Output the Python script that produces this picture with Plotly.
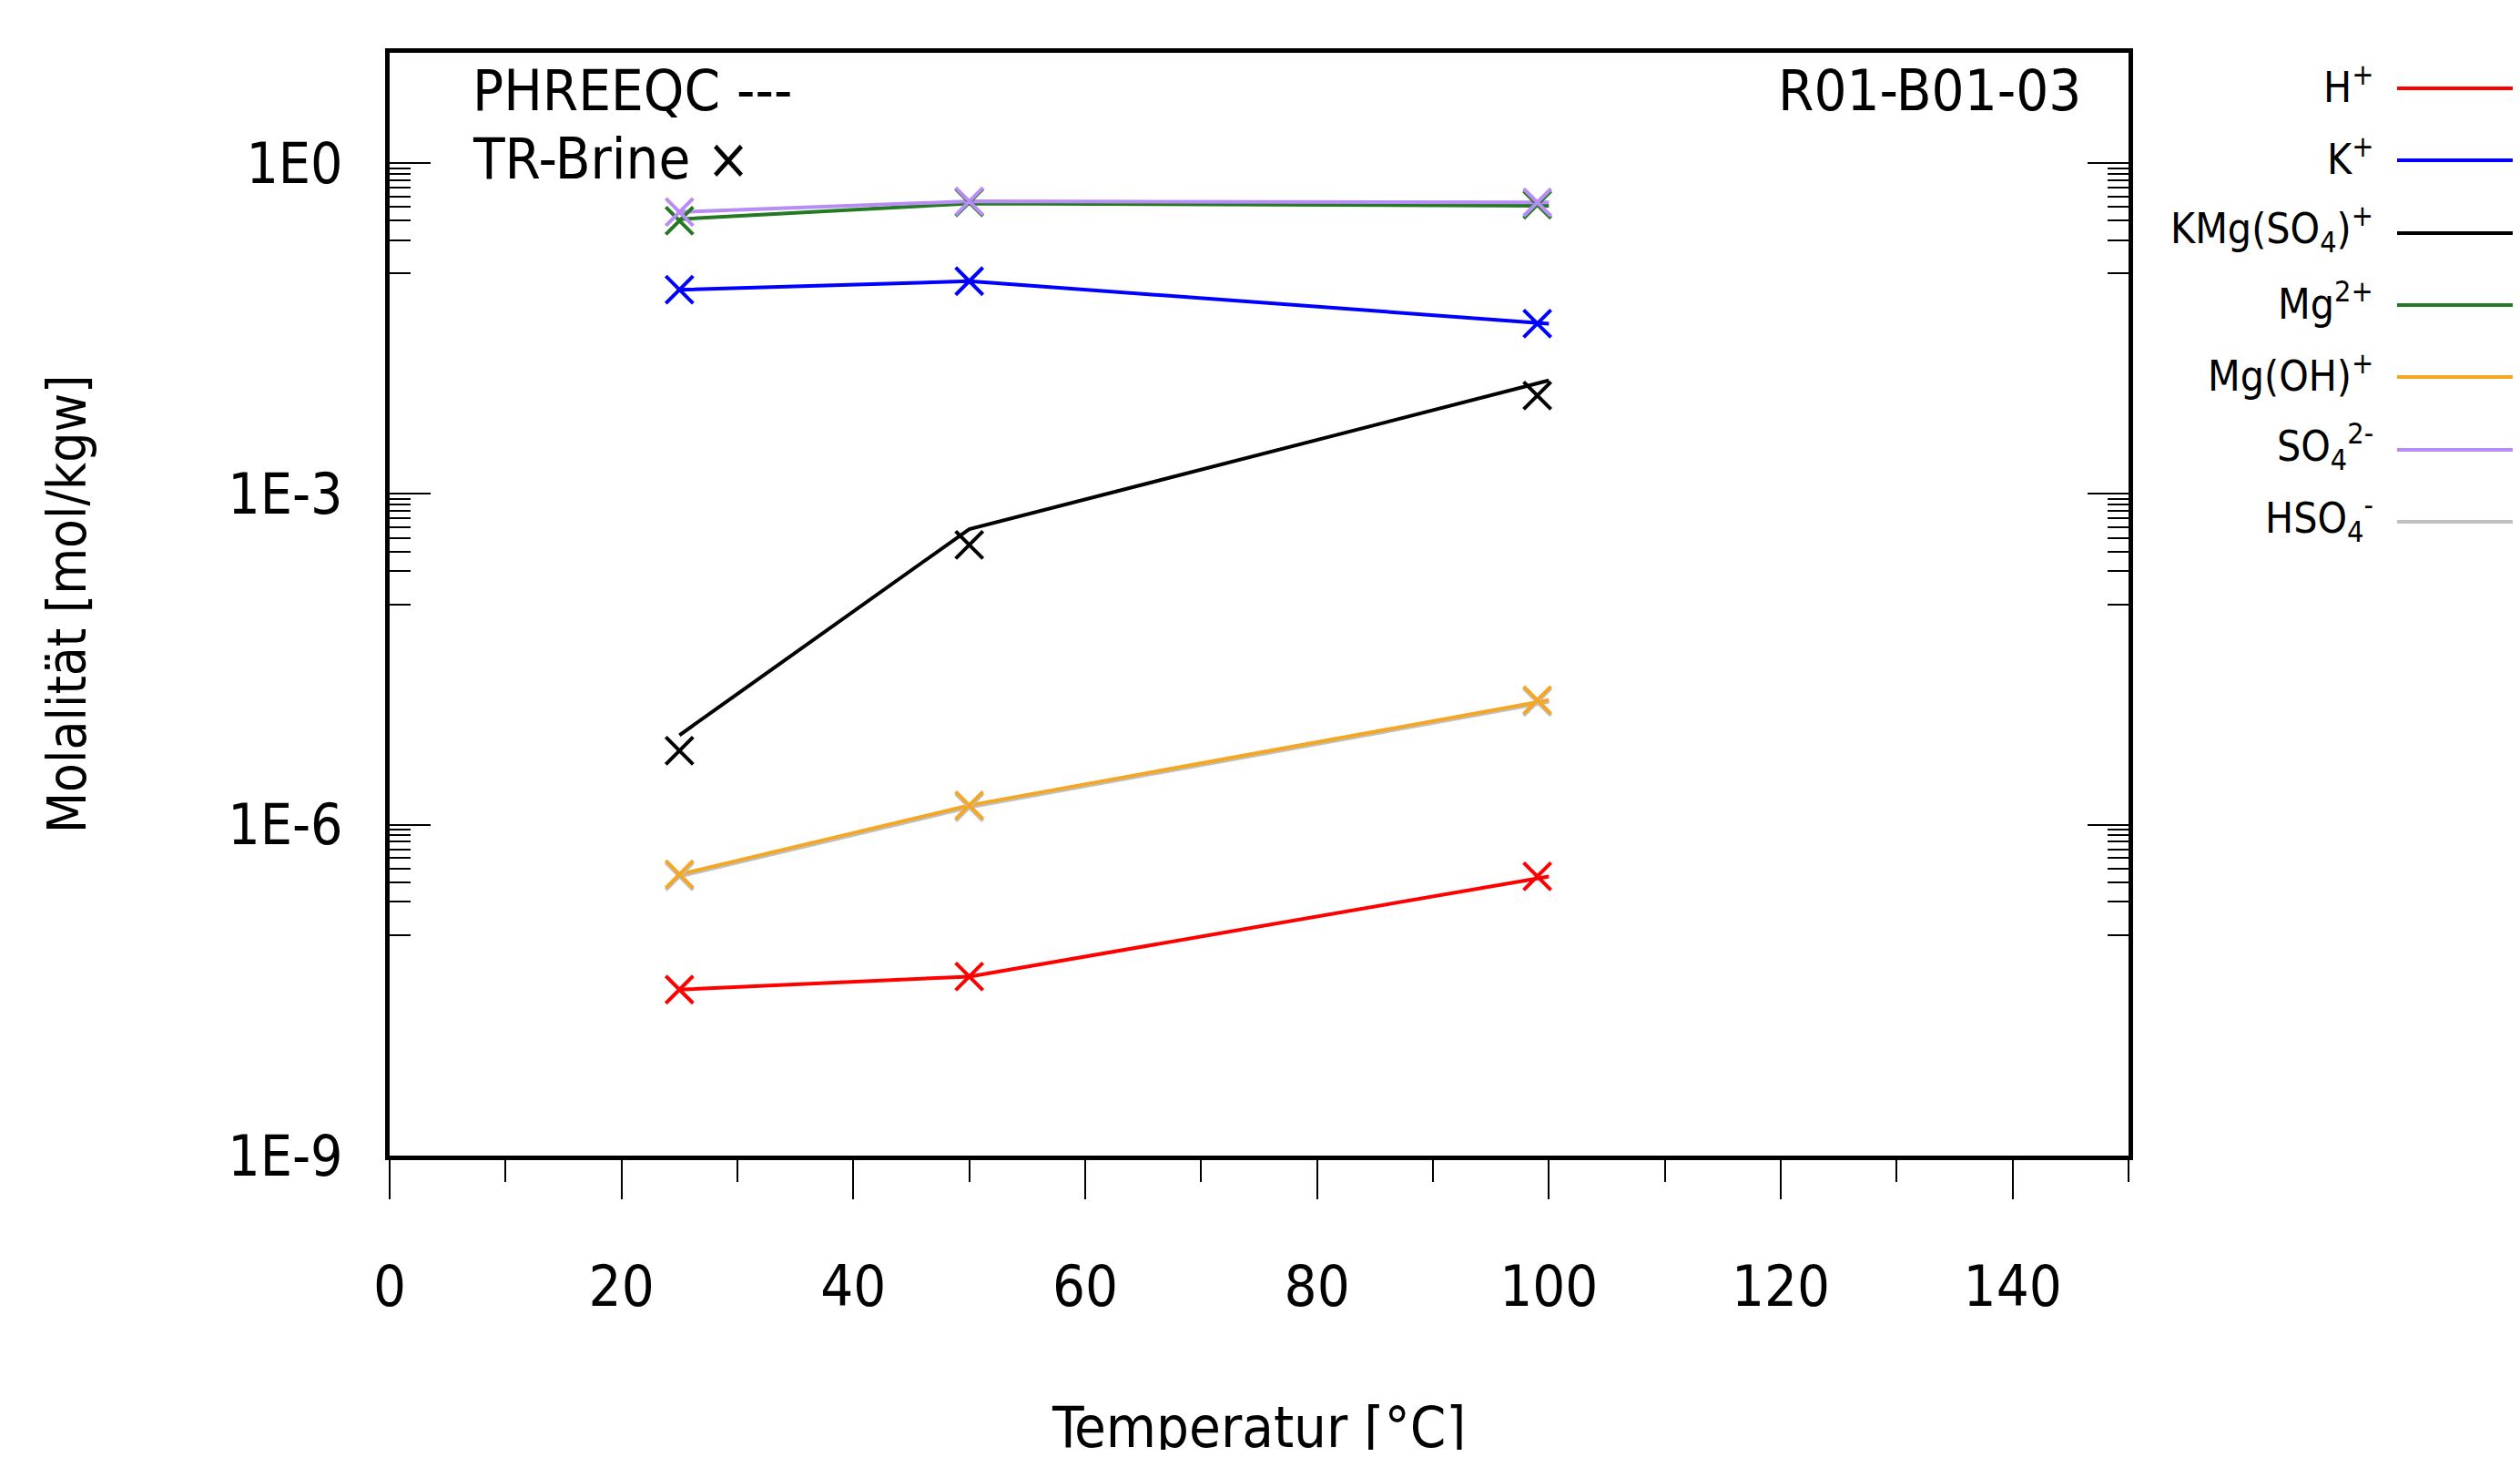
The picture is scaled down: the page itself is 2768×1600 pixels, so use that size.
import plotly.graph_objects as go

# ---------------- data ----------------
species = ["H+", "K+", "KMg(SO4)+", "Mg2+", "Mg(OH)+", "SO4 2-", "HSO4-"]
legend_labels = ["H<sup>+</sup>", "K<sup>+</sup>", "KMg(SO<sub>4</sub>)<sup>+</sup>",
                 "Mg<sup>2+</sup>", "Mg(OH)<sup>+</sup>", "SO<sub>4</sub><sup>2-</sup>",
                 "HSO<sub>4</sub><sup>-</sup>"]
colors = ["#ff0000", "#0000ff", "#000000", "#237a23", "#f5a623", "#b98cf5", "#c0c0c0"]

# PHREEQC (lines)
temp_phreeqc = [25, 50, 100]
phreeqc_H = [3.2e-8, 4.2e-8, 3.4e-7]
phreeqc_K = [0.071, 0.085, 0.035]
phreeqc_KMgSO4 = [6.5e-6, 4.8e-4, 1.07e-2]
phreeqc_Mg = [0.31, 0.43, 0.41]
phreeqc_MgOH = [3.55e-7, 1.5e-6, 1.35e-5]
phreeqc_SO4 = [0.36, 0.45, 0.44]
phreeqc_HSO4 = [3.4e-7, 1.44e-6, 1.3e-5]

# TR-Brine (x markers)
temp_trbrine = [25, 50, 99]
trbrine_H = [3.2e-8, 4.2e-8, 3.4e-7]
trbrine_K = [0.071, 0.085, 0.035]
trbrine_KMgSO4 = [4.7e-6, 3.45e-4, 7.8e-3]
trbrine_Mg = [0.30, 0.44, 0.42]
trbrine_MgOH = [3.55e-7, 1.5e-6, 1.35e-5]
trbrine_SO4 = [0.36, 0.45, 0.44]
trbrine_HSO4 = [3.4e-7, 1.44e-6, 1.3e-5]

y_tickvals = [1, 1e-3, 1e-6, 1e-9]
y_ticktext = ["1E0", "1E-3", "1E-6", "1E-9"]
x_tickvals = [0, 20, 40, 60, 80, 100, 120, 140]
x_minor_tickvals = [10, 30, 50, 70, 90, 110, 130, 150]

phreeqc = [phreeqc_H, phreeqc_K, phreeqc_KMgSO4, phreeqc_Mg, phreeqc_MgOH, phreeqc_SO4, phreeqc_HSO4]
trbrine = [trbrine_H, trbrine_K, trbrine_KMgSO4, trbrine_Mg, trbrine_MgOH, trbrine_SO4, trbrine_HSO4]

FONT = "DejaVu Sans Condensed, DejaVu Sans, sans-serif"

# figure geometry (page has an 8px body margin)
W, H = 2752, 1584
PL, PT, PW, PH = 420, 50, 1910, 1211   # plot area in figure pixels


def px(x):   # page x -> paper fraction
    return (x - 8 - PL) / PW


def py(y):   # page y -> paper fraction
    return (PT + PH - (y - 8)) / PH


fig = go.Figure()
draw_order = [0, 1, 2, 3, 6, 4, 5]
for i in draw_order:
    fig.add_trace(go.Scatter(x=temp_phreeqc, y=phreeqc[i], mode="lines",
                             line=dict(color=colors[i], width=4),
                             name=species[i], showlegend=False))
for i in draw_order:
    fig.add_trace(go.Scatter(x=temp_trbrine, y=trbrine[i], mode="markers",
                             marker=dict(symbol="x-thin", size=30,
                                         line=dict(color=colors[i], width=4)),
                             name=species[i] + " TR-Brine", showlegend=False))

minor_y = []
for major in [0, -3, -6]:
    for k in range(1, 10):
        minor_y.append(k * 10 ** (major - 1))

fig.update_layout(
    width=W, height=H,
    margin=dict(l=PL, r=W - PL - PW, t=PT, b=H - PT - PH),
    paper_bgcolor="white", plot_bgcolor="white",
    font=dict(family=FONT, color="black", size=60),
    showlegend=False,
)
fig.update_xaxes(
    range=[0, 150], tickmode="array", tickvals=x_tickvals,
    ticks="outside", ticklen=43, tickwidth=2, tickcolor="black",
    showline=True, linewidth=5, linecolor="black", mirror=True,
    showgrid=False, zeroline=False,
    tickfont=dict(family=FONT, size=63), ticklabelstandoff=41,
    minor=dict(tickmode="array", tickvals=x_minor_tickvals, ticks="outside",
               ticklen=24, tickwidth=2, tickcolor="black", showgrid=False),
)
fig.update_yaxes(
    type="log", range=[-9, 1], tickmode="array", tickvals=y_tickvals, ticktext=y_ticktext,
    ticks="inside", ticklen=45, tickwidth=2, tickcolor="black",
    showline=True, linewidth=5, linecolor="black", mirror="ticks",
    showgrid=False, zeroline=False,
    tickfont=dict(family=FONT, size=62), ticklabelstandoff=34,
    minor=dict(tickmode="array", tickvals=minor_y, ticks="inside",
               ticklen=23, tickwidth=1.5, tickcolor="black", showgrid=False),
)

# axis titles
fig.add_annotation(text="Molalität [mol/kgw]", xref="paper", yref="paper",
                   x=px(74), y=py(664), textangle=-90, showarrow=False,
                   xanchor="center", yanchor="middle", font=dict(family=FONT, size=58))
fig.add_annotation(text="Temperatur [°C]", xref="paper", yref="paper",
                   x=px(1382), y=py(1567), showarrow=False,
                   xanchor="center", yanchor="middle", font=dict(family=FONT, size=63))

# in-plot texts
fig.add_annotation(text="PHREEQC ---", xref="paper", yref="paper",
                   x=px(517), y=py(100), showarrow=False,
                   xanchor="left", yanchor="middle", font=dict(family=FONT, size=63))
fig.add_annotation(text="TR-Brine ×", xref="paper", yref="paper",
                   x=px(517), y=py(175), showarrow=False,
                   xanchor="left", yanchor="middle", font=dict(family=FONT, size=63))
fig.add_annotation(text="R01-B01-03", xref="paper", yref="paper",
                   x=px(2288), y=py(100), showarrow=False,
                   xanchor="right", yanchor="middle", font=dict(family=FONT, size=63))

# legend (labels left of line samples)
row_y = [97, 176, 256, 335, 414, 494, 573]
for lbl, col, yy in zip(legend_labels, colors, row_y):
    fig.add_annotation(text=lbl, xref="paper", yref="paper",
                       x=px(2609), y=py(yy - 4), showarrow=False,
                       xanchor="right", yanchor="middle", font=dict(family=FONT, size=46))
    fig.add_shape(type="line", xref="paper", yref="paper",
                  x0=px(2633), x1=px(2800), y0=py(yy), y1=py(yy),
                  line=dict(color=col, width=4))

fig.write_html("out.html")
